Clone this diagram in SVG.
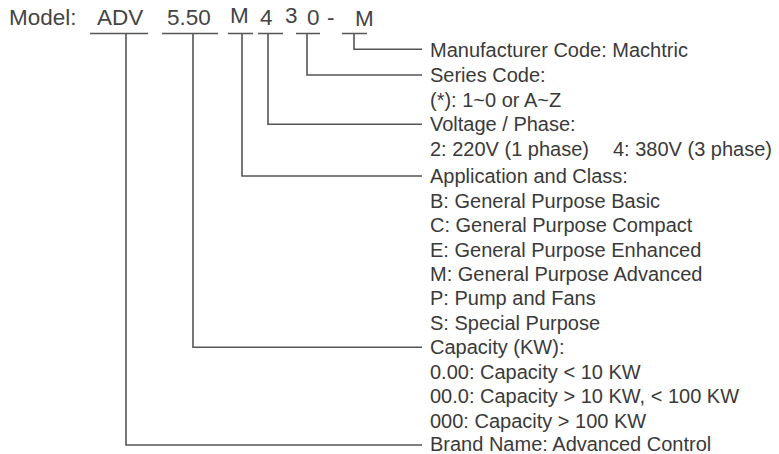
<svg xmlns="http://www.w3.org/2000/svg" width="779" height="454" viewBox="0 0 779 454">
<style>
.hd{font-family:"Liberation Sans",Arial,sans-serif;font-size:22.5px;fill:#444}
.lb{font-family:"Liberation Sans",Arial,sans-serif;font-size:20px;fill:#3a3a3a}
.ln{fill:none;stroke:#555;stroke-width:1.6}
</style>
<rect width="779" height="454" fill="#fff"/>
<g id="header">
<text class="hd" x="9" y="25">Model:</text>
<text class="hd" x="97" y="25">ADV</text>
<text class="hd" x="167" y="25">5.50</text>
<text class="hd" x="230" y="23.3">M</text>
<text class="hd" x="260" y="25">4</text>
<text class="hd" x="285" y="23.3">3</text>
<text class="hd" x="307" y="25">0</text>
<text class="hd" x="327" y="25">-</text>
<text class="hd" x="355" y="25.5">M</text>
</g>
<g id="connectors">
<path class="ln" d="M90 33.5H148M162 33.5H218M228 33.5H253M258 33.5H283M296 33.5H320M342 33.5H367"/>
<path class="ln" d="M354 33.5V49.3H422"/>
<path class="ln" d="M307 33.5V75H422"/>
<path class="ln" d="M268 33.5V124.3H422"/>
<path class="ln" d="M242 33.5V176H422"/>
<path class="ln" d="M193 33.5V347.3H422"/>
<path class="ln" d="M126 33.5V445H422"/>
</g>
<g id="manufacturer">
<text class="lb" x="430" y="56.5">Manufacturer Code: Machtric</text>
</g>
<g id="series">
<text class="lb" x="430" y="82">Series Code:</text>
<text class="lb" x="430" y="106.5">(*): 1~0 or A~Z</text>
</g>
<g id="voltage">
<text class="lb" x="430" y="131">Voltage / Phase:</text>
<text class="lb" x="430" y="156">2: 220V (1 phase)</text>
<text class="lb" x="613" y="156">4: 380V (3 phase)</text>
</g>
<g id="application">
<text class="lb" x="430" y="183">Application and Class:</text>
<text class="lb" x="430" y="207.5">B: General Purpose Basic</text>
<text class="lb" x="430" y="232">C: General Purpose Compact</text>
<text class="lb" x="430" y="256.5">E: General Purpose Enhanced</text>
<text class="lb" x="430" y="281">M: General Purpose Advanced</text>
<text class="lb" x="430" y="305">P: Pump and Fans</text>
<text class="lb" x="430" y="329.5">S: Special Purpose</text>
</g>
<g id="capacity">
<text class="lb" x="430" y="354">Capacity (KW):</text>
<text class="lb" x="430" y="378.5">0.00: Capacity &lt; 10 KW</text>
<text class="lb" x="430" y="403">00.0: Capacity &gt; 10 KW, &lt; 100 KW</text>
<text class="lb" x="430" y="427.5">000: Capacity &gt; 100 KW</text>
</g>
<g id="brand">
<text class="lb" x="430" y="450.5">Brand Name: Advanced Control</text>
</g>
</svg>
